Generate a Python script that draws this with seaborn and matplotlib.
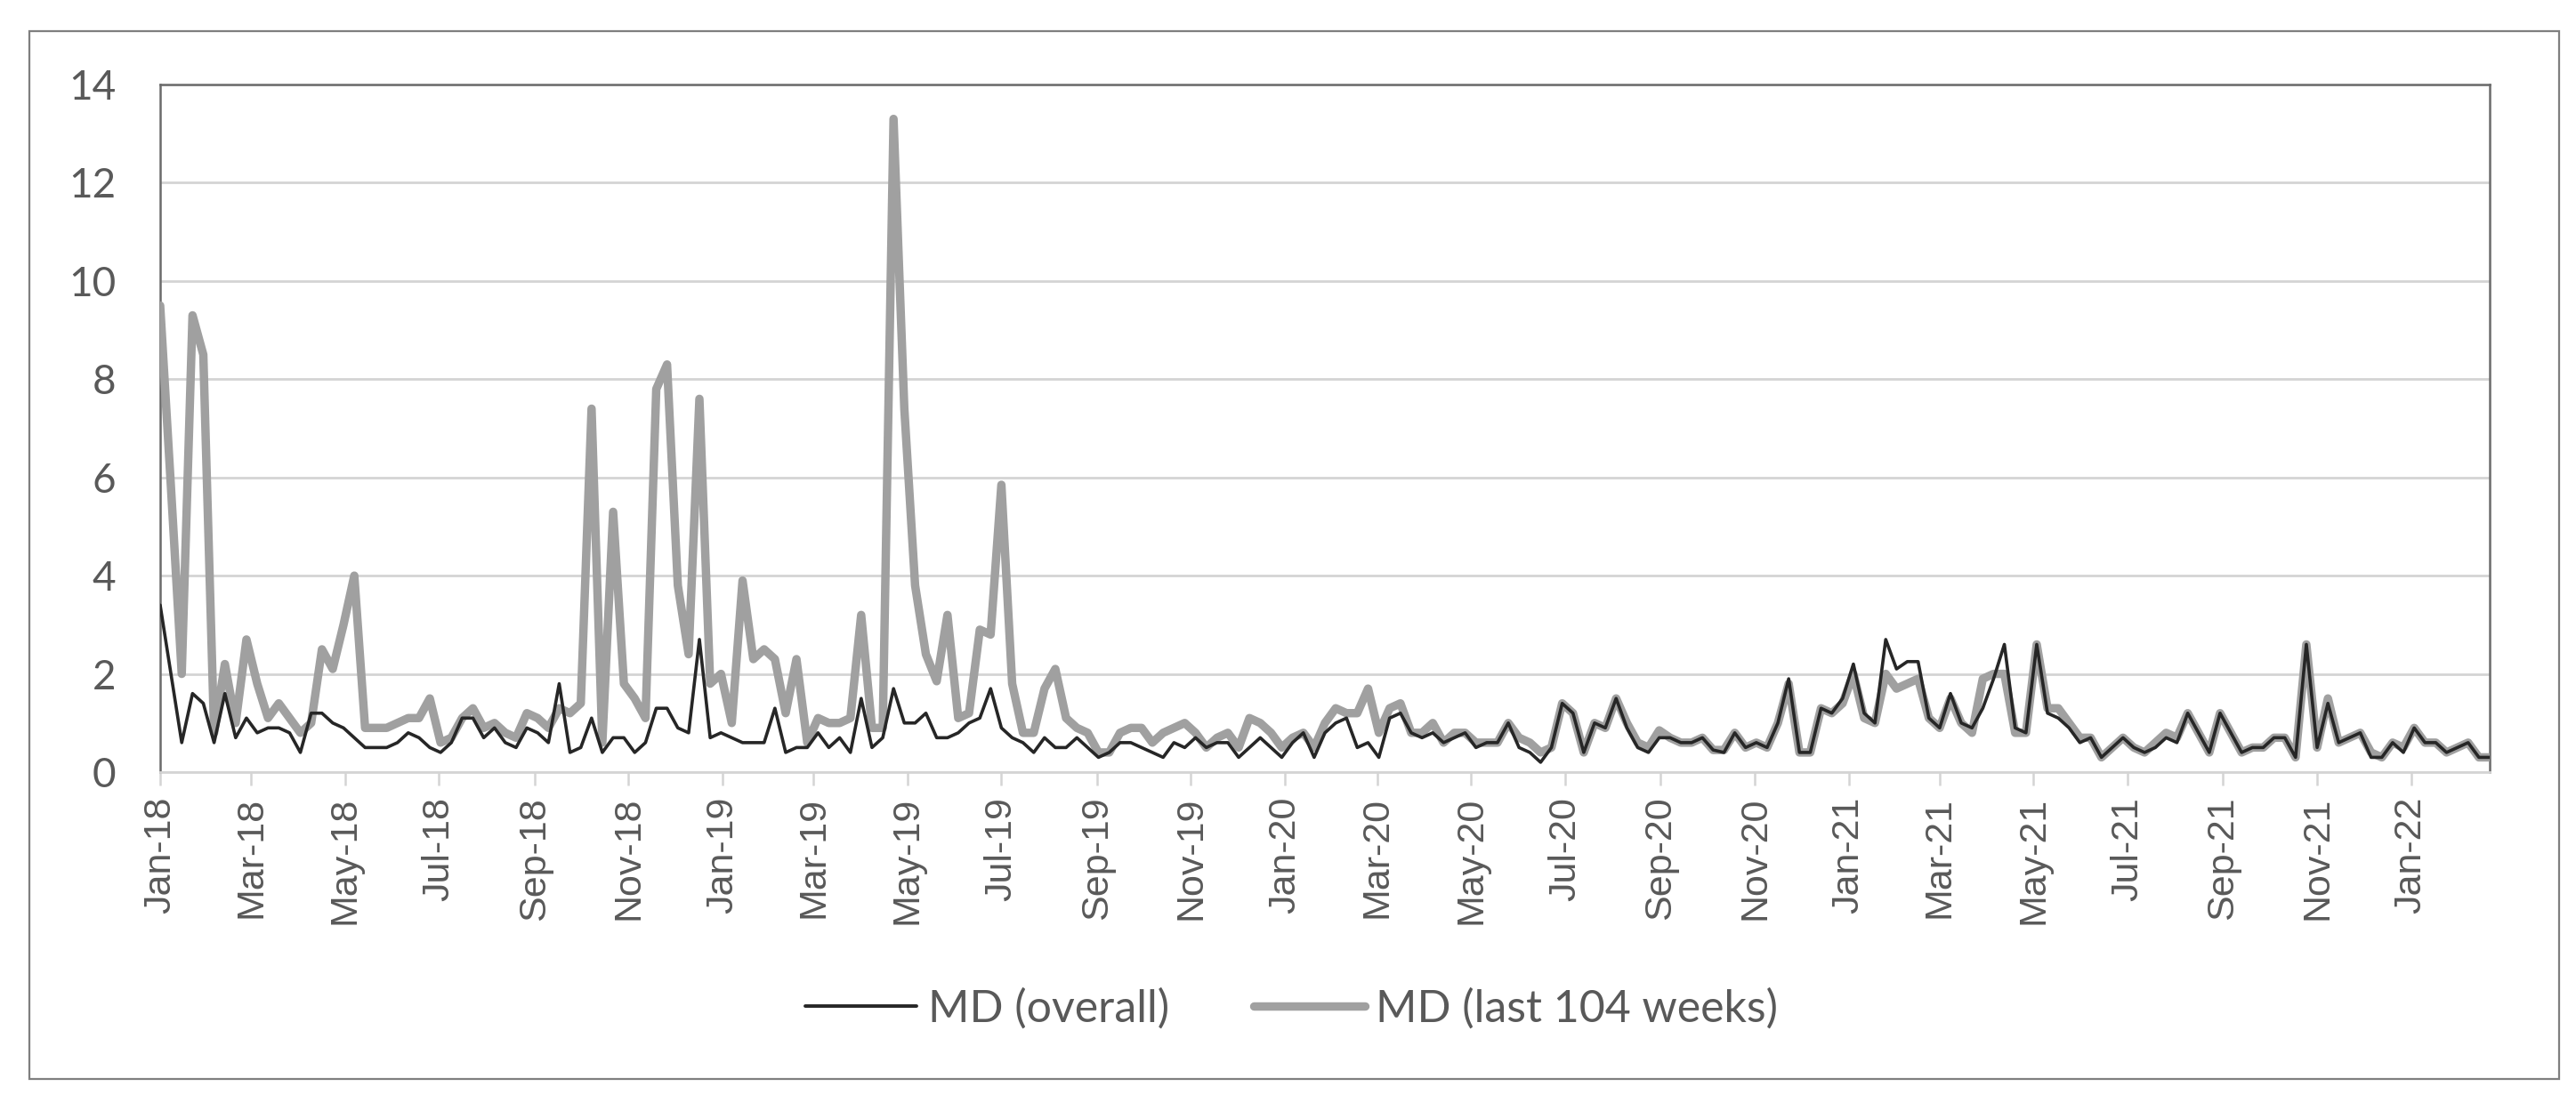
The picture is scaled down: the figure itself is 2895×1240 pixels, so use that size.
import numpy as np
import pandas as pd
import matplotlib
matplotlib.use("Agg")
import matplotlib.pyplot as plt
import matplotlib.dates as mdates
from matplotlib.lines import Line2D
from matplotlib.patches import Rectangle
import seaborn as sns

# ---------------- data ----------------
start_date = "2018-01-01"   # weekly observations
series_names = ["MD (overall)", "MD (last 104 weeks)"]

md_overall = [
    3.4, 2.0, 0.6, 1.6, 1.4, 0.6, 1.6, 0.7, 1.1, 0.8,
    0.9, 0.9, 0.8, 0.4, 1.2, 1.2, 1.0, 0.9, 0.7, 0.5,
    0.5, 0.5, 0.6, 0.8, 0.7, 0.5, 0.4, 0.6, 1.1, 1.1,
    0.7, 0.9, 0.6, 0.5, 0.9, 0.8, 0.6, 1.8, 0.4, 0.5,
    1.1, 0.4, 0.7, 0.7, 0.4, 0.6, 1.3, 1.3, 0.9, 0.8,
    2.7, 0.7, 0.8, 0.7, 0.6, 0.6, 0.6, 1.3, 0.4, 0.5,
    0.5, 0.8, 0.5, 0.7, 0.4, 1.5, 0.5, 0.7, 1.7, 1.0,
    1.0, 1.2, 0.7, 0.7, 0.8, 1.0, 1.1, 1.7, 0.9, 0.7,
    0.6, 0.4, 0.7, 0.5, 0.5, 0.7, 0.5, 0.3, 0.4, 0.6,
    0.6, 0.5, 0.4, 0.3, 0.6, 0.5, 0.7, 0.5, 0.6, 0.6,
    0.3, 0.5, 0.7, 0.5, 0.3, 0.6, 0.8, 0.3, 0.8, 1.0,
    1.1, 0.5, 0.6, 0.3, 1.1, 1.2, 0.8, 0.7, 0.8, 0.6,
    0.7, 0.8, 0.5, 0.6, 0.6, 1.0, 0.5, 0.4, 0.2, 0.5,
    1.4, 1.2, 0.4, 1.0, 0.9, 1.5, 0.9, 0.5, 0.4, 0.7,
    0.7, 0.6, 0.6, 0.7, 0.45, 0.4, 0.8, 0.5, 0.6, 0.5,
    1.0, 1.9, 0.4, 0.4, 1.3, 1.2, 1.5, 2.2, 1.2, 1.0,
    2.7, 2.1, 2.25, 2.25, 1.1, 0.9, 1.6, 1.0, 0.9, 1.3,
    1.9, 2.6, 0.9, 0.8, 2.6, 1.2, 1.1, 0.9, 0.6, 0.7,
    0.3, 0.5, 0.7, 0.5, 0.4, 0.5, 0.7, 0.6, 1.2, 0.8,
    0.4, 1.2, 0.8, 0.4, 0.5, 0.5, 0.7, 0.7, 0.3, 2.6,
    0.5, 1.4, 0.6, 0.7, 0.8, 0.3, 0.3, 0.6, 0.4, 0.9,
    0.6, 0.6, 0.4, 0.5, 0.6, 0.3, 0.3,
]

md_last104 = [
    9.5, 5.8, 2.0, 9.3, 8.5, 0.8, 2.2, 1.0, 2.7, 1.8,
    1.1, 1.4, 1.1, 0.8, 1.0, 2.5, 2.1, 3.0, 4.0, 0.9,
    0.9, 0.9, 1.0, 1.1, 1.1, 1.5, 0.6, 0.7, 1.1, 1.3,
    0.9, 1.0, 0.8, 0.7, 1.2, 1.1, 0.9, 1.3, 1.2, 1.4,
    7.4, 0.6, 5.3, 1.8, 1.5, 1.1, 7.8, 8.3, 3.8, 2.4,
    7.6, 1.8, 2.0, 1.0, 3.9, 2.3, 2.5, 2.3, 1.2, 2.3,
    0.6, 1.1, 1.0, 1.0, 1.1, 3.2, 0.9, 0.9, 13.3, 7.4,
    3.8, 2.4, 1.85, 3.2, 1.1, 1.2, 2.9, 2.8, 5.85, 1.8,
    0.8, 0.8, 1.7, 2.1, 1.1, 0.9, 0.8, 0.4, 0.4, 0.8,
    0.9, 0.9, 0.6, 0.8, 0.9, 1.0, 0.8, 0.5, 0.7, 0.8,
    0.5, 1.1, 1.0, 0.8, 0.5, 0.7, 0.8, 0.5, 1.0, 1.3,
    1.2, 1.2, 1.7, 0.8, 1.3, 1.4, 0.8, 0.8, 1.0, 0.6,
    0.8, 0.8, 0.6, 0.6, 0.6, 1.0, 0.7, 0.6, 0.4, 0.5,
    1.4, 1.2, 0.4, 1.0, 0.9, 1.5, 1.0, 0.6, 0.5, 0.85,
    0.7, 0.6, 0.6, 0.7, 0.45, 0.45, 0.8, 0.5, 0.6, 0.5,
    1.0, 1.8, 0.4, 0.4, 1.3, 1.2, 1.4, 2.0, 1.1, 1.0,
    2.0, 1.7, 1.8, 1.9, 1.1, 0.9, 1.5, 1.0, 0.8, 1.9,
    2.0, 2.0, 0.8, 0.8, 2.6, 1.3, 1.3, 1.0, 0.7, 0.7,
    0.3, 0.5, 0.7, 0.5, 0.4, 0.6, 0.8, 0.7, 1.2, 0.8,
    0.4, 1.2, 0.8, 0.4, 0.5, 0.5, 0.7, 0.7, 0.3, 2.6,
    0.5, 1.5, 0.6, 0.7, 0.8, 0.4, 0.3, 0.6, 0.5, 0.9,
    0.6, 0.6, 0.4, 0.5, 0.6, 0.3, 0.3,
]

y_ticks = [0, 2, 4, 6, 8, 10, 12, 14]

# ---------------- build frame ----------------
dates = pd.date_range(start_date, periods=len(md_overall), freq="7D")
df = pd.DataFrame({
    "date": np.concatenate([dates.values, dates.values]),
    "value": md_overall + md_last104,
    "series": [series_names[0]] * len(md_overall) + [series_names[1]] * len(md_last104),
})

# ---------------- style ----------------
sns.set_theme(style="white")
plt.rcParams['font.family'] = ['Lato', 'DejaVu Sans']
text_color = "#595959"
black_c = "#262626"
gray_c = "#a0a0a0"

W, H = 2895, 1240
fig = plt.figure(figsize=(W / 100, H / 100), dpi=100)
fig.patch.set_facecolor("white")

ax_left, ax_right, ax_top, ax_bottom = 180, 2798, 95, 868
ax = fig.add_axes([ax_left / W, 1 - ax_bottom / H,
                   (ax_right - ax_left) / W, (ax_bottom - ax_top) / H])

sns.lineplot(data=df[df.series == series_names[1]], x="date", y="value",
             color=gray_c, linewidth=6.8, ax=ax, legend=False, zorder=3,
             solid_joinstyle="round", solid_capstyle="round")
sns.lineplot(data=df[df.series == series_names[0]], x="date", y="value",
             color=black_c, linewidth=2.6, ax=ax, legend=False, zorder=4,
             solid_joinstyle="round")

ax.set_xlim(dates[0], dates[-1])
ax.set_ylim(0, 14)
ax.set_yticks(y_ticks)
ax.set_yticklabels([str(v) for v in y_ticks])
ax.set_xlabel("")
ax.set_ylabel("")

ax.xaxis.set_major_locator(mdates.MonthLocator(bymonth=[1, 3, 5, 7, 9, 11]))
ax.xaxis.set_major_formatter(mdates.DateFormatter("%b-%y"))

ax.yaxis.grid(True, color="#d4d4d4", linewidth=2.0, zorder=0)
ax.xaxis.grid(False)
ax.set_axisbelow(True)

for side in ["left", "top", "right"]:
    ax.spines[side].set_color("#6b6b6b")
    ax.spines[side].set_linewidth(1.8)
ax.spines["bottom"].set_color("#d4d4d4")
ax.spines["bottom"].set_linewidth(2.0)

ax.tick_params(axis="y", length=0, pad=36, labelsize=33, labelcolor=text_color)
ax.tick_params(axis="x", length=11, width=1.8, color="#d4d4d4", direction="out",
               pad=9, labelsize=31, labelcolor=text_color, bottom=True)
for lab in ax.get_xticklabels():
    lab.set_rotation(90)
    lab.set_ha("center")
    lab.set_va("top")
    lab.set_family(["Liberation Sans", "DejaVu Sans"])

# legend
handles = [Line2D([], [], color=black_c, linewidth=2.8),
           Line2D([], [], color=gray_c, linewidth=6.8, solid_capstyle="round")]
fig.legend(handles, series_names, loc="center", bbox_to_anchor=(0.5015, 1 - 1134 / H),
           ncol=2, frameon=False, fontsize=36, labelcolor=text_color,
           handlelength=2.5, handletextpad=0.25, columnspacing=1.9)

# outer chart border
fig.add_artist(Rectangle((33 / W, 1 - 1213 / H), (2876 - 33) / W, (1213 - 35) / H,
                         transform=fig.transFigure, fill=False,
                         edgecolor="#7f7f7f", linewidth=1.6))

fig.savefig("out.png", dpi=100, facecolor="white")
